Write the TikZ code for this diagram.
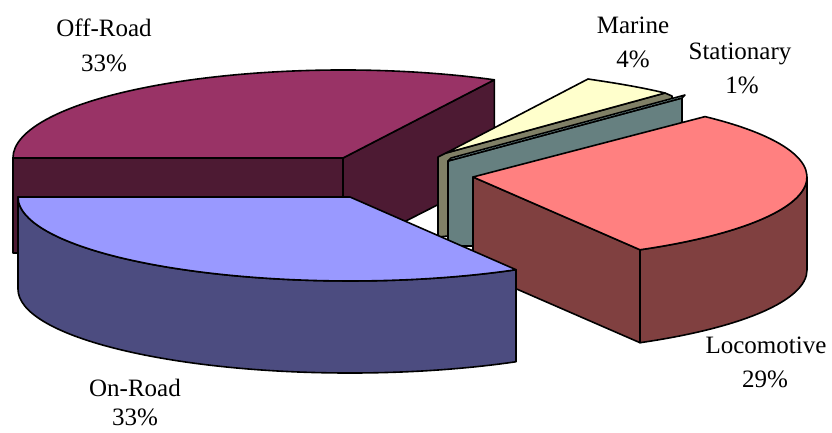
\documentclass[tikz,border=0pt]{standalone}
\usepackage{fontspec}
\setmainfont{Liberation Serif}
\definecolor{offtop}{HTML}{993366}
\definecolor{offside}{HTML}{4D1A33}
\definecolor{ontop}{HTML}{9999FF}
\definecolor{onside}{HTML}{4C4C80}
\definecolor{lotop}{HTML}{FF8080}
\definecolor{loside}{HTML}{804040}
\definecolor{matop}{HTML}{FFFFCC}
\definecolor{maside}{HTML}{808066}
\definecolor{sttop}{HTML}{CCFFFF}
\definecolor{stside}{HTML}{668080}
\begin{document}
\begin{tikzpicture}[x=1pt,y=-1pt,
  face/.style={draw=black,line width=1.6pt,line join=round},
  lbl/.style={font=\fontsize{25}{30}\selectfont,anchor=base,inner sep=0pt}]
\useasboundingbox (0,0) rectangle (832,432);

% ---------- Off-Road ----------
\coordinate (oc) at (343,158);
\coordinate (ol) at (13,158);
\coordinate (or) at (494.3,79.8);
\filldraw[face,fill=offside] (ol) -- (oc) -- (343,253) -- (13,253) -- cycle;
\filldraw[face,fill=offside] (oc) -- (or) -- (494.3,176) -- (343,253) -- cycle;
\filldraw[face,fill=offtop] (oc) -- (or) arc[start angle=-62.7,end angle=-180,x radius=330,y radius=88] -- cycle;

% ---------- Marine ----------
\coordinate (mc) at (446,153);
\coordinate (mp) at (588,79);
\coordinate (me) at (665,93);
\filldraw[face,fill=maside] (438,157) -- (mc) -- (me) -- (672,96) -- (672,110) -- (448,200) -- (448,236) -- (438,237) -- cycle;
\filldraw[face,fill=matop] (mc) -- (mp) .. controls (615,83) and (640,87) .. (me) -- cycle;

% ---------- Stationary ----------
\coordinate (sc) at (448,161);
\coordinate (se) at (682,98);
\filldraw[face,fill=stside] (sc) -- (se) -- (682,200) -- (473,246) -- (448,246) -- cycle;
\filldraw[face,fill=sttop] (sc) -- (451,158) -- (685,95) -- (se) -- cycle;

% ---------- Locomotive ----------
\coordinate (lc) at (473,177);
\coordinate (lb) at (705,116.6);
\coordinate (lf) at (640,249.7);
\coordinate (lr) at (807,177);
\filldraw[face,fill=loside] (lr) arc[start angle=0,end angle=60,x radius=334,y radius=84] -- (640,342.7) arc[start angle=60,end angle=0,x radius=334,y radius=84] -- cycle;
\filldraw[face,fill=loside] (lc) -- (lf) -- (640,342.7) -- (473,270) -- cycle;
\filldraw[face,fill=lotop] (lc) -- (lb) arc[start angle=-46,end angle=60,x radius=334,y radius=84] -- cycle;

% ---------- On-Road ----------
\coordinate (rc) at (350,197);
\coordinate (rr) at (516,269.7);
\coordinate (rl) at (18,197);
\filldraw[face,fill=onside] (rr) arc[start angle=60,end angle=180,x radius=332,y radius=84] -- (18,289) arc[start angle=180,end angle=60,x radius=332,y radius=84] -- cycle;
\filldraw[face,fill=ontop] (rc) -- (rr) arc[start angle=60,end angle=180,x radius=332,y radius=84] -- cycle;

% ---------- Labels ----------
\node[lbl] (l1) at (104,36) {Off-Road};
\node[lbl] (p1) at (104,71) {33\%};
\node[lbl] (l2) at (633,33) {Marine};
\node[lbl] (p2) at (633,67) {4\%};
\node[lbl] (l3) at (740,59) {Stationary};
\node[lbl] (p3) at (742,93) {1\%};
\node[lbl] (l4) at (766,353) {Locomotive};
\node[lbl] (p4) at (765,387) {29\%};
\node[lbl] (l5) at (135,396) {On-Road};
\node[lbl] (p5) at (135,425) {33\%};
\end{tikzpicture}
\end{document}
